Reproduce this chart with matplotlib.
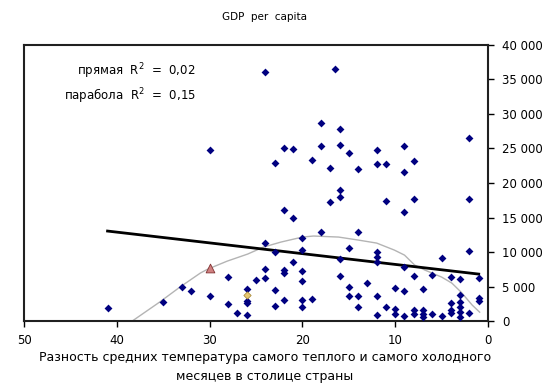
import matplotlib.pyplot as plt
from matplotlib.ticker import FuncFormatter

plt.rcParams['font.family'] = ['DejaVu Sans']

# temperature range (x) and GDP per capita (y), one point per country
temp_diff = [41, 35, 33, 32, 30, 30, 28, 28, 27, 26, 26, 26, 26, 25,
             24, 24, 24, 24, 23, 23, 23, 23, 22, 22, 22, 22, 22,
             21, 21, 21, 20, 20, 20, 20, 20, 20, 19, 19, 18, 18, 18,
             17, 17, 16.5, 16, 16, 16, 16, 16, 16, 15, 15, 15, 15,
             14, 14, 14, 14, 13, 12, 12, 12, 12, 12, 12, 12,
             11, 11, 11, 10, 10, 10, 9, 9, 9, 9, 9, 9,
             8, 8, 8, 8, 8, 7, 7, 7, 7, 6, 6, 5, 5,
             4, 4, 4, 4, 3, 3, 3, 3, 3, 3, 2, 2, 2, 2, 1, 1, 1]
gdp = [1880, 2750, 4930, 4350, 3620, 24780, 6380, 2460, 1160, 4640, 2900, 2610, 870, 5940,
       36080, 11300, 7530, 6230, 22900, 10000, 4490, 2250, 25070, 16080, 7390, 6960, 3040,
       24920, 14920, 8550, 12030, 10290, 7250, 5800, 3040, 2030, 23330, 3190, 28690, 25360, 12900,
       22170, 17240, 36500, 27820, 25500, 18980, 17970, 8980, 6520, 24340, 10580, 4930, 3620,
       22030, 12900, 3620, 2030, 5510, 24780, 22750, 10000, 9270, 8550, 3620, 870,
       22750, 17390, 2030, 4780, 1740, 1010, 25360, 21590, 15790, 7820, 4350, 720,
       23180, 17680, 6520, 1590, 1010, 4640, 1590, 1010, 580, 6670, 1010, 9130, 720,
       6380, 2610, 1590, 1160, 6090, 3770, 2750, 2030, 1300, 580, 26520, 17680, 10140, 1160, 6230, 3330, 2900]

# highlighted countries
tri_x, tri_y = [30], [7680]
yel_x, yel_y = [26], [3770]

# straight trend line
line_x = [41, 1]
line_y = [13040, 6810]

# parabola trend curve
par_x = [38.2, 35.4, 33.2, 31.0, 30.2, 28.1, 25.9, 24.2, 22.3, 20.0, 18.8, 16.1,
         14.0, 12.0, 10.1, 9.0, 7.9, 6.8, 5.0, 3.9, 2.9, 1.7, 0.9]
par_y = [145, 2750, 4930, 6960, 7530, 8690, 9710, 10720, 11450, 12170, 12320, 12170,
         11740, 11300, 10290, 9560, 8110, 7390, 6380, 5510, 4200, 2320, 1300]

fig = plt.figure(figsize=(5.59, 3.86), dpi=100)
ax = fig.add_axes([0.043, 0.168, 0.830, 0.716])

ax.plot(par_x, par_y, color='#b4b4b4', lw=1, zorder=1)
ax.plot(line_x, line_y, color='black', lw=2, zorder=2)
ax.scatter(temp_diff, gdp, marker='D', s=16, color='#000080', zorder=3, linewidths=0)
ax.scatter(tri_x, tri_y, marker='^', s=40, color='#d08080', edgecolors='#803030', linewidths=0.6, zorder=4)
ax.scatter(yel_x, yel_y, marker='D', s=14, color='#e8c870', edgecolors='#a08030', linewidths=0.5, zorder=4)

ax.set_xlim(50, 0)
ax.set_ylim(0, 40000)
ax.set_xticks([50, 40, 30, 20, 10, 0])
ax.set_yticks(range(0, 40001, 5000))
ax.yaxis.tick_right()
ax.yaxis.set_major_formatter(FuncFormatter(lambda v, p: f'{int(v):,}'.replace(',', ' ')))
ax.tick_params(direction='out', length=4, width=1, labelsize=8.5, colors='black')
ax.tick_params(axis='y', pad=6)
ax.tick_params(axis='x', pad=5)
for s in ax.spines.values():
    s.set_visible(True)
    s.set_linewidth(1.5)
    s.set_color('#202020')

fig.text(0.474, 0.956, 'GDP  per  capita', ha='center', va='center', fontsize=7.5)
ax.text(0.37, 0.905, 'прямая  R$^2$  =  0,02', transform=ax.transAxes, ha='right', va='center', fontsize=8.5)
ax.text(0.37, 0.815, 'парабола  R$^2$  =  0,15', transform=ax.transAxes, ha='right', va='center', fontsize=8.5)
fig.text(0.474, 0.075, 'Разность средних температура самого теплого и самого холодного',
         ha='center', va='center', fontsize=9)
fig.text(0.474, 0.025, 'месяцев в столице страны', ha='center', va='center', fontsize=9)

fig.savefig('out.png', dpi=100)
